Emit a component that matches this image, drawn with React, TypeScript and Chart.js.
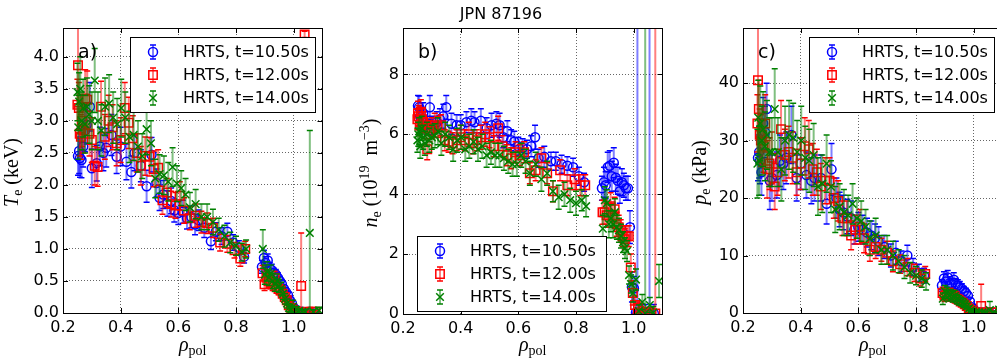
import React, { useEffect, useRef } from 'react';
import { Chart, registerables } from 'chart.js';
Chart.register(...registerables);

// ---------------- data ----------------
const seriesLabels = ['HRTS, t=10.50s', 'HRTS, t=12.00s', 'HRTS, t=14.00s'];
const seriesColors = ['#0000ff', '#ff0000', '#008000'];

const xTicks = [0.2, 0.4, 0.6, 0.8, 1.0];
const teTicks = [0, 0.5, 1.0, 1.5, 2.0, 2.5, 3.0, 3.5, 4.0];
const neTicks = [0, 2, 4, 6, 8];
const peTicks = [0, 10, 20, 30, 40];

const rhoBlue = [0.252,0.256,0.259,0.264,0.270,0.276,0.282,0.293,0.300,0.317,
 0.328,0.340,0.350,0.368,0.386,0.400,0.420,0.437,0.448,0.470,
 0.490,0.507,0.524,0.535,0.548,0.562,0.575,0.586,0.600,0.615,
 0.630,0.645,0.658,0.670,0.690,0.713,0.730,0.750,0.770,0.790,
 0.810,0.828,
 0.890,0.897,0.903,0.910,0.917,0.924,0.931,0.938,
 0.945,0.952,0.959,0.966,0.973,0.980,0.987,0.994,1.001,1.008,
 1.013,1.020,1.030,1.040,1.055,1.070];
const teBlue = [2.45,2.53,2.42,2.39,2.60,2.85,2.94,3.22,2.26,2.34,
 2.60,2.50,2.58,2.78,2.44,2.60,2.36,2.20,2.50,2.30,
 1.98,2.47,2.03,1.80,1.85,1.71,1.75,1.60,1.56,1.58,
 1.48,1.50,1.38,1.45,1.33,1.12,1.27,1.20,1.27,1.10,
 1.02,0.88,
 0.72,0.86,0.78,0.82,0.70,0.67,0.62,0.60,
 0.55,0.50,0.45,0.38,0.33,0.28,0.20,0.15,0.08,0.05,
 0.03,0.02,0.02,0.01,0.02,0.01];
const teErrBlue = [0.30,0.35,0.30,0.28,0.32,0.33,0.30,0.38,0.30,0.28,
 0.30,0.28,0.30,0.32,0.26,0.30,0.28,0.25,0.28,0.25,
 0.25,0.27,0.22,0.20,0.22,0.20,0.20,0.18,0.18,0.18,
 0.17,0.17,0.16,0.16,0.15,0.13,0.14,0.13,0.13,0.12,
 0.11,0.10,
 0.10,0.12,0.10,0.10,0.09,0.09,0.08,0.08,
 0.08,0.07,0.07,0.06,0.06,0.05,0.05,0.04,0.03,0.03,
 0.02,0.02,0.02,0.02,0.02,0.02];
const neBlue = [6.95,6.90,6.60,6.50,6.70,6.40,6.30,6.90,6.30,6.40,
 6.50,6.60,6.90,6.35,6.30,6.30,6.40,6.45,6.40,6.45,
 6.20,6.30,6.35,6.30,5.90,6.10,5.80,5.75,5.60,5.55,
 5.50,5.60,5.90,5.20,5.25,5.10,5.10,5.00,4.95,4.90,
 4.60,4.40,
 4.20,4.40,4.30,4.90,4.95,4.60,5.05,4.55,
 4.45,4.10,4.40,4.30,4.20,4.20,2.90,0.90,0.85,0.05,
 0.02,0.02,0.02,0.02,0.02,0.02];
const neErrBlue = [0.35,0.38,0.35,0.30,0.35,0.35,0.30,0.40,0.30,0.35,
 0.35,0.40,0.40,0.35,0.35,0.35,0.35,0.40,0.35,0.40,
 0.35,0.40,0.40,0.40,0.35,0.35,0.35,0.35,0.30,0.30,
 0.30,0.35,0.40,0.30,0.35,0.30,0.30,0.30,0.30,0.30,
 0.30,0.30,
 0.40,0.50,0.45,0.50,0.50,0.50,0.50,0.45,
 0.45,0.40,0.45,0.40,0.40,0.40,0.55,0.50,0.40,0.30,
 12.0,0.30,0.30,0.30,12.0,0.30];
const peBlue = [27.0,28.0,26.5,24.5,33.0,31.5,35.5,23.0,23.5,24.0,
 26.5,26.0,27.0,31.0,23.5,26.0,24.0,23.0,23.5,23.5,
 19.0,25.0,20.0,18.0,17.5,16.8,16.5,14.5,15.0,14.5,
 14.0,13.5,13.0,12.5,11.5,10.0,10.5,9.0,10.0,8.0,
 7.0,6.5,
 4.8,6.0,5.5,6.2,5.2,5.0,5.8,5.0,
 4.8,4.5,4.2,3.8,3.5,3.0,2.0,1.0,0.6,0.2,
 0.1,0.1,0.1,0.1,0.1,0.1];
const peErrBlue = [4.0,4.5,4.0,4.0,4.5,4.5,4.5,5.0,4.0,4.0,
 4.5,4.5,4.5,5.0,4.0,4.5,4.0,4.0,4.0,4.0,
 3.5,4.5,3.5,3.0,3.0,3.0,3.0,2.5,2.5,2.5,
 2.5,2.5,2.5,2.5,2.0,2.0,2.0,1.8,1.8,1.5,
 1.5,1.3,
 1.0,1.2,1.2,1.2,1.1,1.0,1.2,1.0,
 1.0,1.0,0.9,0.8,0.8,0.7,0.6,0.5,0.4,0.3,
 0.3,0.3,0.3,0.3,0.3,0.3];

const rhoRed = [0.250,0.252,0.255,0.258,0.262,0.266,0.271,0.277,0.284,0.292,
 0.300,0.310,0.320,0.332,0.345,0.358,0.372,0.386,0.400,0.414,
 0.428,0.442,0.456,0.470,0.485,0.500,0.515,0.530,0.545,0.560,
 0.575,0.590,0.605,0.620,0.640,0.660,0.680,0.700,0.720,0.745,
 0.770,0.795,0.815,0.832,
 0.892,0.899,0.906,0.913,0.920,0.927,
 0.934,0.941,0.948,0.955,0.962,0.969,0.976,0.983,0.990,0.997,
 1.005,1.015,1.026,1.038,1.050,1.062,1.075];
const teRed = [3.25,3.87,3.20,2.80,2.75,3.00,2.85,3.35,3.33,2.80,
 2.70,2.30,2.28,3.22,2.75,3.00,2.90,2.65,2.70,3.20,
 2.97,2.73,2.50,2.30,2.45,2.44,2.25,2.27,1.76,1.88,
 1.70,1.68,1.83,1.60,1.48,1.52,1.42,1.40,1.33,1.10,
 1.08,0.98,0.85,1.00,
 0.62,0.45,0.55,0.50,0.48,0.45,
 0.55,0.40,0.38,0.35,0.30,0.25,0.20,0.12,0.08,0.05,
 0.03,0.02,0.42,4.35,0.02,0.02,0.02];
const teErrRed = [0.40,0.65,0.40,0.35,0.35,0.40,0.35,0.45,0.45,0.35,
 0.35,0.30,0.30,0.40,0.35,0.40,0.35,0.35,0.35,0.40,
 0.40,0.35,0.30,0.30,0.30,0.30,0.28,0.28,0.22,0.22,
 0.20,0.20,0.22,0.20,0.18,0.18,0.17,0.16,0.15,0.13,
 0.13,0.12,0.12,0.12,
 0.12,0.10,0.10,0.10,0.10,0.10,
 0.10,0.09,0.09,0.08,0.08,0.07,0.06,0.05,0.04,0.03,
 0.03,0.02,0.83,0.05,0.02,0.02,0.02];
const neRed = [6.50,6.70,6.60,6.30,6.75,6.50,6.40,6.20,5.50,6.10,
 6.20,6.30,6.25,6.30,5.80,5.75,5.70,5.80,5.90,5.80,
 6.00,5.70,5.80,5.90,6.00,5.90,5.60,6.20,5.60,5.30,
 5.20,5.40,5.30,5.40,4.70,4.80,5.20,4.70,4.10,4.80,
 4.30,4.50,4.30,4.30,
 3.40,3.40,3.30,3.30,3.60,3.30,
 3.50,3.00,2.90,2.80,2.60,2.50,2.60,2.60,1.55,0.70,
 0.30,0.20,0.05,0.02,0.02,0.02,0.02];
const neErrRed = [0.35,0.40,0.35,0.35,0.40,0.35,0.35,0.35,0.35,0.35,
 0.35,0.40,0.35,0.35,0.35,0.35,0.35,0.35,0.40,0.35,
 0.40,0.35,0.35,0.40,0.40,0.35,0.35,0.40,0.35,0.35,
 0.35,0.35,0.35,0.35,0.35,0.35,0.35,0.35,0.35,0.35,
 0.35,0.35,0.35,0.35,
 0.40,0.40,0.40,0.40,0.45,0.40,
 0.40,0.40,0.40,0.35,0.35,0.35,0.35,0.35,0.45,0.40,
 0.30,0.20,0.20,0.20,0.20,0.20,12.0];
const peRed = [33.0,40.5,35.5,31.0,30.0,31.0,29.0,33.0,25.0,26.0,
 27.0,22.0,24.5,32.0,27.5,28.0,27.0,24.5,26.0,29.0,
 28.5,25.0,24.5,22.0,23.0,23.0,20.0,19.5,16.5,16.5,
 13.5,14.5,15.0,13.0,11.0,11.5,11.0,10.5,9.0,8.5,
 8.0,7.0,6.0,6.8,
 3.5,3.0,3.2,3.0,3.3,2.8,
 3.0,2.5,2.3,2.0,1.8,1.5,1.2,0.8,0.5,0.2,
 0.1,0.1,1.2,0.1,0.1,0.1,0.1];
const peErrRed = [5.0,10.0,5.0,4.5,4.5,5.0,4.5,5.0,5.0,4.5,
 4.5,4.0,4.0,5.0,4.5,4.5,4.5,4.0,4.5,5.0,
 5.0,4.5,4.0,4.0,4.0,4.0,3.5,3.5,3.0,3.0,
 2.5,2.5,3.0,2.5,2.0,2.0,2.0,2.0,1.8,1.6,
 1.5,1.5,1.3,1.3,
 1.0,1.0,1.0,0.9,1.0,0.9,
 0.9,0.8,0.8,0.7,0.7,0.6,0.5,0.4,0.3,0.2,
 0.2,0.2,3.8,0.2,0.2,0.2,0.2];

const rhoGreen = [0.250,0.253,0.256,0.260,0.265,0.270,0.276,0.283,0.291,0.300,
 0.310,0.321,0.333,0.346,0.360,0.374,0.388,0.402,0.416,0.430,
 0.445,0.460,0.475,0.490,0.505,0.520,0.535,0.550,0.565,0.580,
 0.595,0.610,0.625,0.640,0.660,0.680,0.700,0.720,0.740,0.760,
 0.780,0.800,0.820,0.835,
 0.893,0.900,0.907,0.914,0.921,0.928,
 0.935,0.942,0.949,0.956,0.963,0.970,0.977,0.984,0.991,0.998,
 1.008,1.018,1.030,1.040,1.056,1.068,1.088];
const teGreen = [3.45,2.90,3.30,3.50,3.00,3.20,2.95,3.22,3.10,3.00,
 3.63,3.00,2.85,3.22,3.27,3.05,2.95,3.20,3.05,2.75,
 2.78,2.60,2.45,2.87,2.65,2.10,2.17,2.15,2.05,2.28,
 2.02,1.95,1.85,1.65,1.70,1.50,1.50,1.42,1.30,1.20,
 1.10,1.05,0.95,1.00,
 1.00,0.60,0.65,0.55,0.62,0.50,
 0.45,0.50,0.42,0.38,0.30,0.22,0.15,0.08,0.05,0.10,
 0.05,0.03,0.02,0.02,1.25,0.02,0.04];
const teErrGreen = [0.45,0.50,0.45,0.50,0.45,0.45,0.45,0.45,0.45,0.45,
 0.50,0.45,0.40,0.45,0.45,0.40,0.40,0.45,0.40,0.40,
 0.40,0.40,0.35,0.40,0.35,0.30,0.30,0.30,0.30,0.30,
 0.28,0.27,0.25,0.23,0.23,0.20,0.20,0.20,0.18,0.17,
 0.16,0.15,0.14,0.14,
 0.30,0.15,0.15,0.12,0.13,0.12,
 0.11,0.11,0.10,0.10,0.09,0.08,0.07,0.06,0.05,0.10,
 0.05,0.03,0.03,0.03,1.60,0.03,0.05];
const neGreen = [5.80,6.00,6.10,5.60,6.20,5.90,5.70,6.00,5.80,5.90,
 5.95,6.10,5.70,6.00,5.90,5.50,5.80,5.90,5.50,5.60,
 5.75,5.50,5.60,5.30,5.40,5.30,5.30,5.20,5.10,5.00,
 5.00,5.30,5.10,4.70,5.00,4.50,4.70,4.10,3.90,4.00,
 3.80,3.70,3.80,3.60,
 2.85,3.80,3.70,3.00,3.20,3.00,
 3.40,2.90,2.80,2.60,2.40,2.20,2.10,1.30,1.00,0.70,
 1.15,0.10,0.40,0.02,0.30,0.05,1.10];
const neErrGreen = [0.40,0.40,0.45,0.40,0.40,0.40,0.40,0.40,0.40,0.40,
 0.40,0.45,0.40,0.40,0.40,0.40,0.40,0.40,0.40,0.40,
 0.40,0.40,0.40,0.40,0.40,0.40,0.40,0.40,0.40,0.40,
 0.40,0.40,0.40,0.40,0.40,0.40,0.40,0.35,0.40,0.40,
 0.40,0.40,0.35,0.35,
 0.45,0.45,0.45,0.45,0.45,0.45,
 0.45,0.40,0.40,0.40,0.35,0.35,0.35,0.30,0.30,0.30,
 0.35,0.20,0.25,12.0,0.25,0.20,0.55];
const peGreen = [26.0,34.0,26.5,33.0,30.0,32.0,29.0,31.0,28.0,28.0,
 35.5,28.0,25.0,30.0,31.0,30.5,28.0,30.0,27.0,26.5,
 27.5,22.0,22.5,26.0,22.0,18.0,18.5,17.5,17.0,19.0,
 16.5,16.0,15.0,13.0,13.5,11.0,11.0,10.0,9.0,8.0,
 7.0,6.5,6.0,5.5,
 2.5,3.8,3.5,3.0,3.2,2.8,
 3.0,2.4,2.2,2.0,1.8,1.5,1.2,0.8,0.5,0.3,
 0.2,0.1,0.1,0.1,0.5,0.1,0.6];
const peErrGreen = [6.0,6.5,6.0,6.5,6.0,6.5,6.0,6.0,6.0,6.0,
 7.0,6.0,5.5,6.0,6.0,6.0,5.5,6.0,5.5,5.5,
 5.5,5.0,5.0,5.0,4.5,4.0,4.0,4.0,3.5,3.5,
 3.5,3.5,3.0,3.0,3.0,2.5,2.5,2.5,2.0,2.0,
 1.8,1.6,1.5,1.5,
 1.0,1.0,1.0,0.9,0.9,0.9,
 0.9,0.8,0.8,0.7,0.7,0.6,0.5,0.4,0.3,0.3,
 0.3,0.2,0.2,0.2,1.5,0.2,0.5];

// ---------------- drawing helpers ----------------
const SANS = "'DejaVu Sans', sans-serif";
const SERIF = "'Liberation Serif', 'DejaVu Serif', serif";

type Seg = { t: string; size: number; italic?: boolean; dy?: number };

function segFont(s: Seg) {
  return `${s.italic ? 'italic ' : ''}${s.size}px ${SERIF}`;
}

function drawRich(ctx: CanvasRenderingContext2D, segs: Seg[], cx: number, cy: number, rotate: boolean) {
  ctx.save();
  ctx.translate(cx, cy);
  if (rotate) ctx.rotate(-Math.PI / 2);
  let total = 0;
  const widths = segs.map((s) => {
    ctx.font = segFont(s);
    const w = ctx.measureText(s.t).width;
    total += w;
    return w;
  });
  let x = -total / 2;
  ctx.textAlign = 'left';
  ctx.textBaseline = 'alphabetic';
  ctx.fillStyle = '#000';
  segs.forEach((s, i) => {
    ctx.font = segFont(s);
    ctx.fillText(s.t, x, s.dy || 0);
    x += widths[i];
  });
  ctx.restore();
}

function drawMarker(ctx: CanvasRenderingContext2D, style: string, x: number, y: number, color: string) {
  ctx.save();
  ctx.strokeStyle = color;
  ctx.lineWidth = 1.5;
  ctx.beginPath();
  if (style === 'circle') {
    ctx.arc(x, y, 4.5, 0, Math.PI * 2);
  } else if (style === 'rect') {
    ctx.rect(x - 4.2, y - 4.2, 8.4, 8.4);
  } else {
    ctx.moveTo(x - 3.8, y - 3.8); ctx.lineTo(x + 3.8, y + 3.8);
    ctx.moveTo(x + 3.8, y - 3.8); ctx.lineTo(x - 3.8, y + 3.8);
  }
  ctx.stroke();
  ctx.restore();
}

function drawErrBar(ctx: CanvasRenderingContext2D, x: number, y1: number, y2: number, color: string) {
  ctx.save();
  ctx.strokeStyle = color;
  ctx.globalAlpha = 0.5;
  ctx.lineWidth = 2;
  ctx.beginPath();
  ctx.moveTo(x, y1); ctx.lineTo(x, y2);
  ctx.stroke();
  ctx.globalAlpha = 1;
  ctx.lineWidth = 1.5;
  ctx.beginPath();
  ctx.moveTo(x - 3, y1); ctx.lineTo(x + 3, y1);
  ctx.moveTo(x - 3, y2); ctx.lineTo(x + 3, y2);
  ctx.stroke();
  ctx.restore();
}

const markerStyles = ['circle', 'rect', 'crossRot'];

const decoPlugin = {
  id: 'deco',
  beforeDatasetDraw(chart: any, args: any) {
    const ds = chart.data.datasets[args.index];
    const { ctx, chartArea } = chart;
    const xs = chart.scales.x;
    const ys = chart.scales.y;
    ctx.save();
    ctx.beginPath();
    ctx.rect(chartArea.left, chartArea.top, chartArea.right - chartArea.left, chartArea.bottom - chartArea.top);
    ctx.clip();
    ds.data.forEach((p: any) => {
      const px = xs.getPixelForValue(p.x);
      const y1 = ys.getPixelForValue(p.y - p.e);
      const y2 = ys.getPixelForValue(p.y + p.e);
      drawErrBar(ctx, px, y1, y2, ds.borderColor);
    });
    ctx.restore();
  },
  afterDatasetsDraw(chart: any) {
    const { ctx, chartArea } = chart;
    const { left, right, top, bottom } = chartArea;
    const xs = chart.scales.x;
    const ys = chart.scales.y;
    ctx.save();
    ctx.strokeStyle = '#000';
    ctx.lineWidth = 1;
    ctx.beginPath();
    xs.ticks.forEach((t: any) => {
      const px = Math.round(xs.getPixelForValue(t.value)) + 0.5;
      ctx.moveTo(px, bottom); ctx.lineTo(px, bottom - 5);
      ctx.moveTo(px, top); ctx.lineTo(px, top + 5);
    });
    ys.ticks.forEach((t: any) => {
      const py = Math.round(ys.getPixelForValue(t.value)) + 0.5;
      ctx.moveTo(left, py); ctx.lineTo(left + 5, py);
      ctx.moveTo(right, py); ctx.lineTo(right - 5, py);
    });
    ctx.stroke();
    ctx.strokeRect(Math.round(left) + 0.5, Math.round(top) + 0.5, Math.round(right - left) - 1, Math.round(bottom - top));
    ctx.restore();
  },
  afterDraw(chart: any, _args: any, opts: any) {
    const { ctx, chartArea } = chart;
    // legend
    const b = opts.legend;
    ctx.save();
    ctx.fillStyle = '#fff';
    ctx.fillRect(b.x, b.y, b.w, b.h);
    ctx.strokeStyle = '#000';
    ctx.lineWidth = 1;
    ctx.strokeRect(b.x + 0.5, b.y + 0.5, b.w - 1, b.h - 1);
    chart.data.datasets.forEach((ds: any, i: number) => {
      const cy = b.y + 15 + i * 23;
      const mx = b.x + 23;
      drawErrBar(ctx, mx, cy - 7, cy + 7, ds.borderColor);
      drawMarker(ctx, markerStyles[i], mx, cy, ds.borderColor);
      ctx.font = `16px ${SANS}`;
      ctx.fillStyle = '#000';
      ctx.textAlign = 'left';
      ctx.textBaseline = 'middle';
      ctx.fillText(ds.label, b.x + 53, cy + 1);
    });
    // panel label
    ctx.font = `19px ${SANS}`;
    ctx.textBaseline = 'alphabetic';
    ctx.fillText(opts.panel, chartArea.left + 15, 58);
    // title
    if (opts.title) {
      ctx.font = `16px ${SANS}`;
      ctx.textAlign = 'center';
      ctx.textBaseline = 'middle';
      ctx.fillText(opts.title, opts.titleX, 15);
    }
    ctx.restore();
    // axis titles
    drawRich(ctx, opts.yTitle, opts.yTitleX, (chartArea.top + chartArea.bottom) / 2 + 2, true);
    drawRich(ctx, [
      { t: 'ρ', size: 20, italic: true },
      { t: 'pol', size: 14, dy: 4 },
    ], (chartArea.left + chartArea.right) / 2, 351, false);
  },
};

type Panel = {
  left: number; width: number; areaLeft: number; areaRight: number; areaBottom: number;
  yMax: number; yTicks: number[]; dec: number;
  values: number[][]; errs: number[][];
  legend: { x: number; y: number; w: number; h: number };
  panel: string; yTitle: Seg[]; yTitleX: number; title?: string; titleX?: number;
};

const rhos = [rhoBlue, rhoRed, rhoGreen];

const panels: Panel[] = [
  {
    left: 0, width: 330, areaLeft: 63, areaRight: 325, areaBottom: 313,
    yMax: 4.45, yTicks: teTicks, dec: 1,
    values: [teBlue, teRed, teGreen], errs: [teErrBlue, teErrRed, teErrGreen],
    legend: { x: 130, y: 37, w: 186, h: 76 }, panel: 'a)',
    yTitle: [
      { t: 'T', size: 20, italic: true },
      { t: 'e', size: 14, dy: 4 },
      { t: ' (keV)', size: 20 },
    ],
    yTitleX: 18,
  },
  {
    left: 330, width: 340, areaLeft: 73, areaRight: 334, areaBottom: 314,
    yMax: 9.55, yTicks: neTicks, dec: 0,
    values: [neBlue, neRed, neGreen], errs: [neErrBlue, neErrRed, neErrGreen],
    legend: { x: 87, y: 236, w: 190, h: 76 }, panel: 'b)',
    yTitle: [
      { t: 'n', size: 20, italic: true },
      { t: 'e', size: 14, dy: 4 },
      { t: ' (10', size: 20 },
      { t: '19', size: 14, dy: -8 },
      { t: '  m', size: 20 },
      { t: '−3', size: 14, dy: -8 },
      { t: ')', size: 20 },
    ],
    yTitleX: 47,
    title: 'JPN 87196', titleX: 171,
  },
  {
    left: 670, width: 340, areaLeft: 73, areaRight: 334, areaBottom: 313,
    yMax: 49.6, yTicks: peTicks, dec: 0,
    values: [peBlue, peRed, peGreen], errs: [peErrBlue, peErrRed, peErrGreen],
    legend: { x: 139, y: 37, w: 186, h: 76 }, panel: 'c)',
    yTitle: [
      { t: 'p', size: 20, italic: true },
      { t: 'e', size: 14, dy: 4 },
      { t: ' (kPa)', size: 20 },
    ],
    yTitleX: 36,
  },
];

const HEIGHT = 362;
const AREA_TOP = 28;

function PanelChart({ p }: { p: Panel }) {
  const ref = useRef<HTMLCanvasElement | null>(null);
  useEffect(() => {
    if (!ref.current) return;
    const datasets = [0, 1, 2].map((i) => ({
      type: 'scatter' as const,
      label: seriesLabels[i],
      data: rhos[i].map((r, k) => ({ x: r, y: p.values[i][k], e: p.errs[i][k] })),
      pointStyle: markerStyles[i],
      pointRadius: i === 0 ? 4.5 : i === 1 ? 6 : 5.4,
      pointBorderWidth: 1.5,
      borderColor: seriesColors[i],
      backgroundColor: 'rgba(0,0,0,0)',
      order: 3 - i,
    }));
    const chart = new Chart(ref.current, {
      type: 'scatter',
      data: { datasets },
      plugins: [decoPlugin as any],
      options: {
        responsive: false,
        animation: false,
        events: [],
        layout: { padding: { left: 0, right: p.width - p.areaRight, top: AREA_TOP, bottom: 0 } },
        scales: {
          x: {
            type: 'linear', min: 0.2, max: 1.1,
            afterBuildTicks: (s: any) => { s.ticks = xTicks.map((v) => ({ value: v })); },
            afterFit: (s: any) => { s.height = HEIGHT - p.areaBottom; },
            ticks: {
              font: { family: SANS, size: 16 }, color: '#000', padding: 5,
              maxRotation: 0, autoSkip: false,
              callback: (v: any) => Number(v).toFixed(1),
            },
            grid: { color: 'rgba(0,0,0,0.6)', lineWidth: 1, drawTicks: false },
            border: { display: false, dash: [1, 2] },
          },
          y: {
            type: 'linear', min: 0, max: p.yMax,
            afterBuildTicks: (s: any) => { s.ticks = p.yTicks.map((v) => ({ value: v })); },
            afterFit: (s: any) => { s.width = p.areaLeft; },
            ticks: {
              font: { family: SANS, size: 16 }, color: '#000', padding: 4,
              callback: (v: any) => Number(v).toFixed(p.dec),
            },
            grid: { color: 'rgba(0,0,0,0.6)', lineWidth: 1, drawTicks: false },
            border: { display: false, dash: [1, 2] },
          },
        },
        plugins: {
          legend: { display: false },
          tooltip: { enabled: false },
          deco: {
            legend: p.legend, panel: p.panel, yTitle: p.yTitle, yTitleX: p.yTitleX,
            title: p.title, titleX: p.titleX,
          },
        } as any,
      },
    } as any);
    return () => chart.destroy();
  }, [p]);
  return (
    <canvas
      ref={ref}
      width={p.width}
      height={HEIGHT}
      style={{ position: 'absolute', left: p.left, top: 0, width: p.width, height: HEIGHT }}
    />
  );
}

export default function App() {
  return (
    <div style={{ position: 'fixed', left: 0, top: 0, width: 997, height: HEIGHT, overflow: 'hidden', background: '#fff' }}>
      {panels.map((p, i) => (
        <PanelChart key={i} p={p} />
      ))}
    </div>
  );
}
